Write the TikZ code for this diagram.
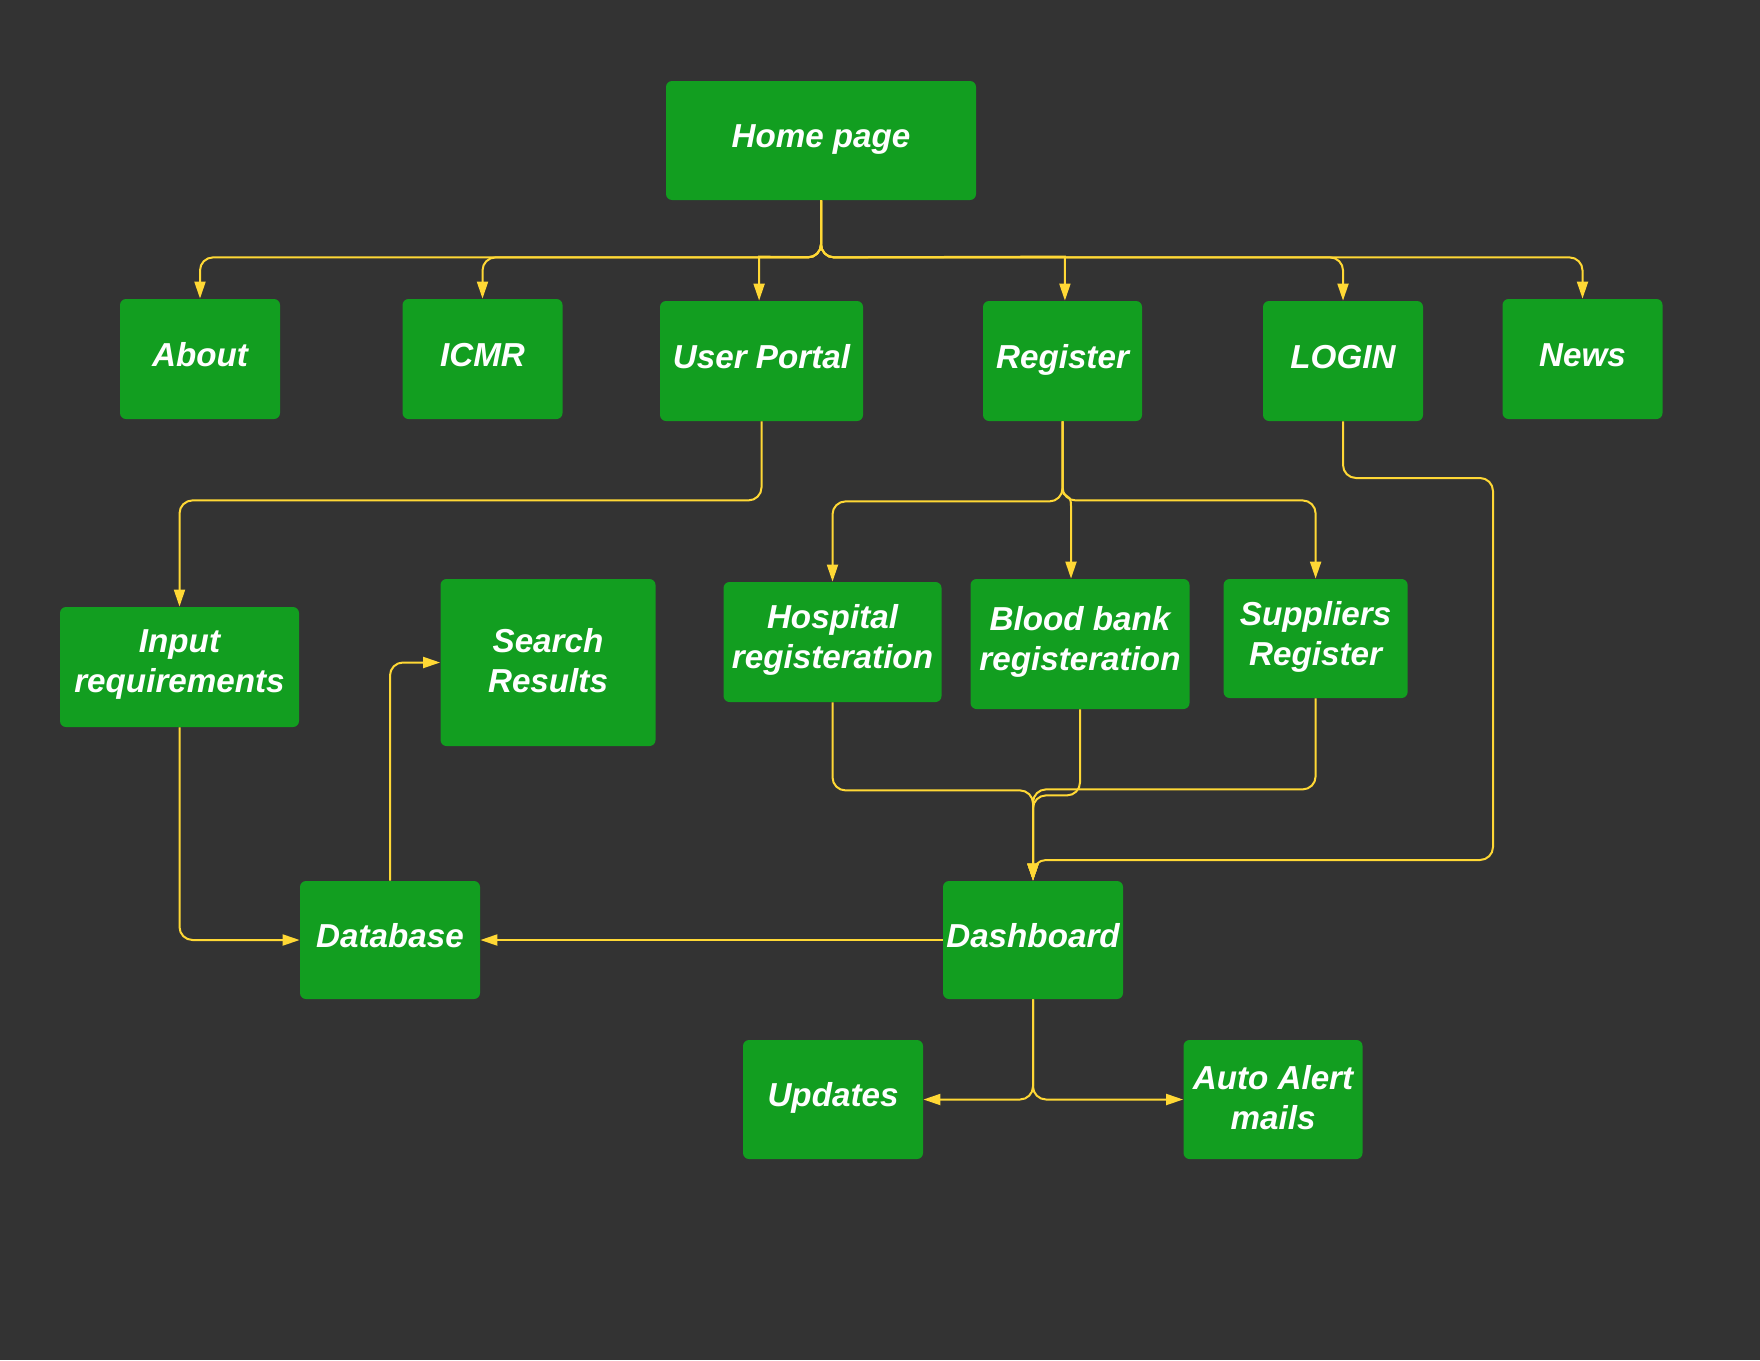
\documentclass[tikz,border=0pt]{standalone}
\usepackage{fontspec}
\setmainfont{Liberation Sans}
\usetikzlibrary{arrows.meta}
\definecolor{bg}{HTML}{333333}
\definecolor{boxgreen}{HTML}{129E20}
\definecolor{lineyellow}{HTML}{FFD835}
\begin{document}
\begin{tikzpicture}[x=0.5pt,y=-0.5pt,
  box/.style={fill=boxgreen, draw=none, rounded corners=3pt, inner sep=0pt},
  txt/.style={text=white, font=\fontsize{16.6pt}{20pt}\selectfont\bfseries\itshape,
    align=center, inner sep=0pt, text height=0.75em, text depth=0.25em, yshift=-1.2pt},
  txtm/.style={text=white, font=\fontsize{16.6pt}{20pt}\selectfont\bfseries\itshape,
    align=center, inner sep=0pt, yshift=1pt},
  conn/.style={draw=lineyellow, line width=1pt, rounded corners=6.5pt,
    -{Triangle[length=8.5pt,width=5.5pt]}}]
\fill[bg] (0,0) rectangle (1760,1360);
\useasboundingbox (0,0) rectangle (1760,1360);

% boxes
\node[box, minimum width=155pt, minimum height=59.5pt, label={[txt]center:Home page}] (home) at (821,140.5) {};
\node[box, minimum width=80pt, minimum height=60pt, label={[txt]center:About}] (about) at (200,359) {};
\node[box, minimum width=80pt, minimum height=60pt, label={[txt]center:ICMR}] (icmr) at (482.5,359) {};
\node[box, minimum width=101.5pt, minimum height=60pt, label={[txt]center:User Portal}] (user) at (761.5,361) {};
\node[box, minimum width=79.5pt, minimum height=60pt, label={[txt]center:Register}] (reg) at (1062.5,361) {};
\node[box, minimum width=80pt, minimum height=60pt, label={[txt]center:LOGIN}] (login) at (1343,361) {};
\node[box, minimum width=80pt, minimum height=60pt, label={[txt]center:News}] (news) at (1582.5,359) {};

\node[box, minimum width=119.5pt, minimum height=60pt, label={[txtm]center:{Input\\requirements}}] (input) at (179.5,667) {};
\node[box, minimum width=107.5pt, minimum height=83.5pt, label={[txtm]center:{Search\\Results}}] (search) at (548,662.5) {};
\node[box, minimum width=109pt, minimum height=60pt, label={[txtm]center:{Hospital\\registeration}}] (hosp) at (832.5,642) {};
\node[box, minimum width=109.5pt, minimum height=65pt, label={[txtm]center:{Blood bank\\registeration}}] (blood) at (1080,644) {};
\node[box, minimum width=92pt, minimum height=59.5pt, label={[txtm]center:{Suppliers\\Register}}] (supp) at (1315.6,638.5) {};

\node[box, minimum width=90pt, minimum height=59pt, label={[txt]center:Database}] (db) at (390,940) {};
\node[box, minimum width=90pt, minimum height=59pt, label={[txt]center:Dashboard}] (dash) at (1033,940) {};
\node[box, minimum width=90pt, minimum height=59.5pt, label={[txt]center:Updates}] (upd) at (833,1099.5) {};
\node[box, minimum width=89.5pt, minimum height=59.5pt, label={[txtm]center:{Auto Alert\\mails}}] (alert) at (1273,1099.5) {};

% connectors from Home page
\draw[conn] (home.south) -- ++(0,57) -| (about.north);
\draw[conn] (home.south) -- ++(0,57) -| (icmr.north);
\draw[conn] (home.south) -- ++(0,57) [sharp corners] -- ([xshift=-1.2pt,yshift=22pt]user.north) -- ([xshift=-1.2pt]user.north);
\draw[conn] (home.south) -- ++(0,57) [sharp corners] -- ([xshift=1.2pt,yshift=22pt]reg.north) -- ([xshift=1.2pt]reg.north);
\draw[conn] (home.south) -- ++(0,57) -| (login.north);
\draw[conn] (home.south) -- ++(0,57) -| (news.north);

% User Portal -> Input requirements
\draw[conn] (user.south) -- ++(0,79) -| (input.north);

% Register -> three registrations
\draw[conn] (reg.south) -- ++(0,80) -| (hosp.north);
\draw[conn, sharp corners] (reg.south) -- ++(0,66) .. controls ++(0,14) and (1071,490) .. (1071,506) -- ([xshift=-4.5pt]blood.north);
\draw[conn] (reg.south) -- ++(0,79) -| (supp.north);

% registrations -> Dashboard
\draw[conn] (hosp.south) -- ++(0,88) -| (dash.north);
\draw[conn] (blood.south) -- ++(0,86) -| (dash.north);
\draw[conn] (supp.south) -- ++(0,91) -| (dash.north);

% LOGIN -> Dashboard
\coordinate (lc1) at (1493,478);
\coordinate (lc2) at (1493,860);
\draw[conn] (login.south) |- (lc1) -- (lc2) -| (dash.north);

% lower part
\draw[conn] (dash.west) -- (db.east);
\draw[conn] (input.south) |- (db.west);
\draw[conn] (db.north) |- (search.west);
\draw[conn] (dash.south) |- (upd.east);
\draw[conn] (dash.south) |- (alert.west);
\end{tikzpicture}
\end{document}
